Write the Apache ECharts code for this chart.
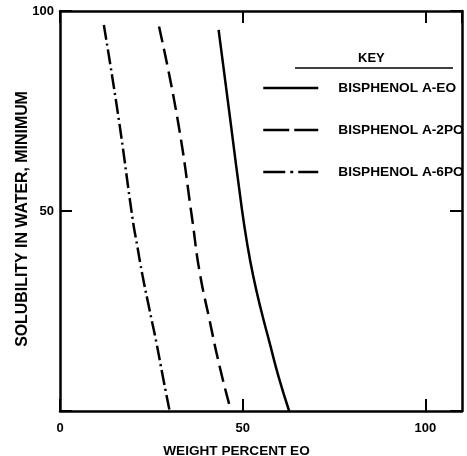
<!DOCTYPE html>
<html>
<head>
<meta charset="utf-8">
<script src="https://cdn.jsdelivr.net/npm/echarts@6/dist/echarts.min.js"></script>
<style>
html,body{margin:0;padding:0;background:#fff;}
#chart{width:467px;height:456px;}
</style>
</head>
<body>
<div id="chart"></div>
<script>
// Data (x = weight percent EO, y = solubility in water, minimum)
const seriesNames = ['BISPHENOL A-EO', 'BISPHENOL A-2PO', 'BISPHENOL A-6PO'];
const eoX  = [43.4, 46.6, 49.8, 51.2, 52.9, 55.0, 57.4, 59.8, 62.7];
const eoY  = [95.3, 72.8, 50.3, 41.9, 33.6, 25.3, 16.9, 8.6, 0];
const po2X = [27.1, 32.2, 36.2, 38.1, 40.9, 43.9, 46.8];
const po2Y = [96.1, 72.8, 47.8, 35.3, 22.8, 10.3, 0];
const po6X = [12.0, 16.1, 19.9, 21.0, 22.6, 24.5, 26.4, 28.1, 30.0];
const po6Y = [96.5, 72.8, 47.8, 42.0, 33.8, 25.3, 17.0, 8.8, 0];
const xTicks = [0, 50, 100];
const yTicks = [0, 50, 100];
const xTitle = 'WEIGHT PERCENT EO';
const yTitle = 'SOLUBILITY IN WATER, MINIMUM';
const keyTitle = 'KEY';

const pairs = (xs, ys) => xs.map((x, i) => [x, ys[i]]);
const font = '"Liberation Sans", Arial, sans-serif';
const dashes = ['solid', [16, 7], [15, 4, 2, 4]];
const legendDashes = ['solid', [26, 5], [22, 5, 3, 5]];

const chart = echarts.init(document.getElementById('chart'), null, {renderer: 'canvas'});
const axisLine = {show: true, onZero: false, lineStyle: {color: '#000', width: 2.5}};
const tick = {show: true, inside: true, length: 12, lineStyle: {color: '#000', width: 2}};
const labelFmt = v => (xTicks.indexOf(v) >= 0 ? String(v) : '');

chart.setOption({
  animation: false,
  backgroundColor: '#fff',
  grid: {left: 60, top: 11, right: 5, bottom: 45, containLabel: false, outerBoundsMode: 'none'},
  xAxis: [
    {type: 'value', min: 0, max: 110, interval: 50, position: 'bottom',
     axisLine, axisTick: tick, splitLine: {show: false},
     axisLabel: {formatter: labelFmt, color: '#000', fontFamily: font, fontWeight: 'bold', fontSize: 13, margin: 11, showMaxLabel: false},
     name: xTitle, nameLocation: 'middle', nameGap: 33,
     nameTextStyle: {color: '#000', fontFamily: font, fontWeight: 'bold', fontSize: 13.6, padding: [0, 49, 0, 0]}},
    {type: 'value', min: 0, max: 110, interval: 50, position: 'top',
     axisLine, axisTick: tick, axisLabel: {show: false}, splitLine: {show: false}}
  ],
  yAxis: [
    {type: 'value', min: 0, max: 100, interval: 50, position: 'left',
     axisLine, axisTick: tick, splitLine: {show: false},
     axisLabel: {formatter: v => (yTicks.indexOf(v) >= 0 && v !== 0 ? String(v) : ''), color: '#000', fontFamily: font, fontWeight: 'bold', fontSize: 13, margin: 6},
     name: yTitle, nameLocation: 'middle', nameGap: 29, nameRotate: 90, nameMoveOverlap: false,
     nameTextStyle: {color: '#000', fontFamily: font, fontWeight: 'bold', fontSize: 15.9, padding: [0, 16, 0, 0]}},
    {type: 'value', min: 0, max: 100, interval: 50, position: 'right',
     axisLine, axisTick: tick, axisLabel: {show: false}, splitLine: {show: false}}
  ],
  legend: {
    orient: 'vertical', left: 257, top: 76,
    itemWidth: 55, itemHeight: 14, itemGap: 28,
    icon: 'inherit',
    textStyle: {color: '#000', fontFamily: font, fontWeight: 'bold', fontSize: 13.7, padding: [0, 0, 0, 15]},
    data: seriesNames.map((n, i) => ({name: n, itemStyle: {opacity: 0}, lineStyle: {type: legendDashes[i], width: 2.5, color: '#000'}}))
  },
  graphic: [
    {type: 'text', left: 358, top: 52, style: {text: keyTitle, fill: '#000', font: 'bold 13px ' + font}},
    {type: 'line', shape: {x1: 295, y1: 68, x2: 453, y2: 68}, style: {stroke: '#000', lineWidth: 1.5}}
  ],
  series: [
    {name: seriesNames[0], data: pairs(eoX, eoY)},
    {name: seriesNames[1], data: pairs(po2X, po2Y)},
    {name: seriesNames[2], data: pairs(po6X, po6Y)}
  ].map((s, i) => Object.assign(s, {
    type: 'line', smooth: 0.5, symbol: 'none', showSymbol: false,
    lineStyle: {color: '#000', width: 2.5, type: dashes[i]},
    itemStyle: {color: '#000'}
  }))
});
</script>
</body>
</html>
